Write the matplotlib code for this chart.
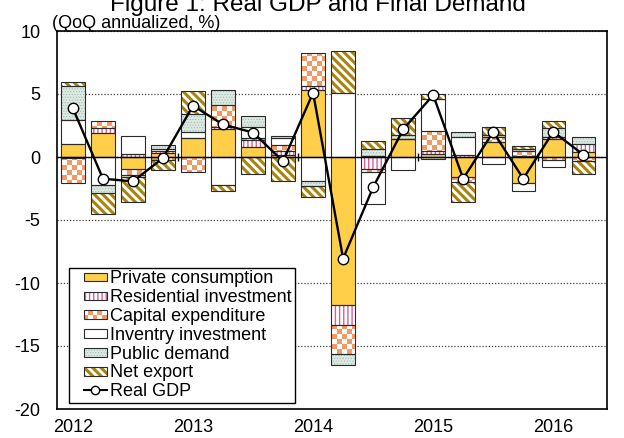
import numpy as np
import matplotlib
matplotlib.use("Agg")
import matplotlib.pyplot as plt
import matplotlib.patches as mpatches
from matplotlib.colors import ListedColormap
from matplotlib.lines import Line2D
from matplotlib.path import Path

plt.rcParams['font.family'] = ['Liberation Sans', 'DejaVu Sans']
plt.rcParams['axes.unicode_minus'] = False

# quarterly contributions to real GDP growth (QoQ annualized, %)
quarters = ['2012Q1', '2012Q2', '2012Q3', '2012Q4',
            '2013Q1', '2013Q2', '2013Q3', '2013Q4',
            '2014Q1', '2014Q2', '2014Q3', '2014Q4',
            '2015Q1', '2015Q2', '2015Q3', '2015Q4',
            '2016Q1', '2016Q2']
year_labels = ['2012', '2013', '2014', '2015', '2016']

private = [1.07, 1.87, -0.93, 0.32, 1.52, 2.26, 0.80, 0.14, 5.32, -11.78,
           0.05, 1.39, 0.20, -1.60, 1.20, -2.05, 1.45, 0.40]
residential = [-0.10, 0.45, 0.27, 0.16, 0.00, 0.13, 0.55, 0.35, 0.32, -1.52,
               -0.93, 0.00, 0.24, 0.13, 0.00, 0.05, 0.10, 0.60]
capex = [-2.00, 0.54, -0.53, -0.25, -1.20, 1.70, 0.12, 0.45, 2.61, -2.30,
         -0.27, 0.00, 1.62, -0.40, 0.35, 0.45, -0.25, -0.30]
inventory = [1.86, -2.26, 1.40, 0.15, 0.43, -2.26, 0.92, 0.53, -1.94, 5.06,
             -2.50, -1.06, 2.58, 1.47, -0.53, -0.65, -0.55, -0.05]
public = [2.71, -0.58, -0.10, 0.36, 1.44, 1.20, 0.88, 0.20, -0.40, -0.88,
          0.62, 0.34, -0.13, 0.40, 0.18, 0.15, 0.75, 0.60]
net_export = [0.30, -1.68, -2.03, -0.75, 1.86, -0.45, -1.33, -1.94, -0.80, 3.32,
              0.58, 1.33, 0.34, -1.60, 0.67, 0.20, 0.55, -1.00]
real_gdp = [3.86, -1.72, -1.94, -0.08, 4.07, 2.58, 1.94, -0.34, 5.10, -8.06,
            -2.40, 2.19, 4.92, -1.72, 2.00, -1.72, 2.00, 0.19]

CHECK_ORANGE = '#F29A66'
styles = {
    'Private consumption': dict(face='#FFCF4A', hatch=None, hcolor='#FFCF4A', hlw=1.0),
    'Residential investment': dict(face='white', hatch='||||', hcolor='#D2609C', hlw=1.0),
    'Capital expenditure': dict(face='white', hatch=None, hcolor='white', hlw=1.0, checker=True),
    'Inventry investment': dict(face='white', hatch=None, hcolor='white', hlw=1.0),
    'Public demand': dict(face='#DCE9E2', hatch='......', hcolor='#9AB5A8', hlw=0.4),
    'Net export': dict(face='white', hatch='\\\\\\\\', hcolor='#A8830F', hlw=2.2),
}
components = [('Private consumption', private),
              ('Residential investment', residential),
              ('Capital expenditure', capex),
              ('Inventry investment', inventory),
              ('Public demand', public),
              ('Net export', net_export)]

fig = plt.figure(figsize=(6.24, 4.38), dpi=100)
ax = fig.add_axes([57 / 624, 1 - 409 / 438, 550 / 624, 378 / 438])

x = np.arange(len(quarters))
width = 0.78
xlim = (-0.53, len(quarters) - 0.21)
ylim = (-20, 10)

pos_base = np.zeros(len(x))
neg_base = np.zeros(len(x))
capex_bars = None
for name, vals in components:
    st = styles[name]
    v = np.array(vals, dtype=float)
    bottoms = np.where(v >= 0, pos_base, neg_base)
    with plt.rc_context({'hatch.linewidth': st['hlw']}):
        filled = ax.bar(x, v, width, bottom=bottoms, color=st['face'],
                        edgecolor=st['hcolor'], hatch=st['hatch'],
                        linewidth=0, zorder=2)
    for p in filled:
        if hasattr(p, 'set_hatch_linewidth'):
            p.set_hatch_linewidth(st['hlw'])
    ax.bar(x, v, width, bottom=bottoms, fill=False, edgecolor='#2a2a2a',
           linewidth=0.8, zorder=4)
    if st.get('checker'):
        capex_bars = filled
    pos_base += np.where(v > 0, v, 0)
    neg_base += np.where(v < 0, v, 0)

# checkerboard texture for capital expenditure, clipped to its segments
board = np.add.outer(np.arange(76), np.arange(110)) % 2
im = ax.imshow(board, extent=(xlim[0], xlim[1], ylim[0], ylim[1]), origin='lower',
               cmap=ListedColormap(['white', CHECK_ORANGE]), aspect='auto',
               interpolation='nearest', zorder=3)
rects = [p.get_path().transformed(p.get_patch_transform()) for p in capex_bars]
im.set_clip_path(Path.make_compound_path(*rects), ax.transData)

ax.plot(x, real_gdp, color='black', linewidth=1.7, marker='o', markersize=7.5,
        markerfacecolor='white', markeredgecolor='black', markeredgewidth=1.0,
        zorder=6)

ax.axhline(0, color='black', linewidth=1.0, zorder=5)
year_bounds = np.arange(4, len(quarters), 4) - 0.5
ax.vlines(year_bounds, -0.33, 0.33, color='black', linewidth=1.0, zorder=5)

ax.set_xlim(*xlim)
ax.set_ylim(*ylim)
ax.set_yticks(np.arange(-20, 11, 5))
ax.set_yticklabels([str(v) for v in range(-20, 11, 5)])
ax.set_xticks(x[::4])
ax.set_xticklabels(year_labels)
ax.tick_params(axis='y', length=0, pad=12, labelsize=13)
ax.tick_params(axis='x', length=0, pad=7, labelsize=13)
ax.yaxis.grid(True, linestyle=(0, (1, 1.5)), color='#444444', linewidth=0.9)
ax.set_axisbelow(True)
for s in ax.spines.values():
    s.set_color('black')
    s.set_linewidth(1.2)


class SwatchHandler:
    def __init__(self, st):
        self.st = st

    def legend_artist(self, legend, orig_handle, fontsize, handlebox):
        x0, y0 = handlebox.xdescent, handlebox.ydescent
        w, h = handlebox.width, handlebox.height
        sw, sh = 1.28 * fontsize, 0.69 * h
        sx, sy = x0 + w - sw, y0 + (h - sh) / 2
        tr = handlebox.get_transform()
        st = self.st
        with plt.rc_context({'hatch.linewidth': st['hlw']}):
            base = mpatches.Rectangle((sx, sy), sw, sh, facecolor=st['face'],
                                      edgecolor=st['hcolor'], hatch=st['hatch'],
                                      linewidth=0, transform=tr)
        if hasattr(base, 'set_hatch_linewidth'):
            base.set_hatch_linewidth(st['hlw'])
        handlebox.add_artist(base)
        if st.get('checker'):
            nc, nr = 5, 2
            for r in range(nr):
                for c in range(nc):
                    if (r + c) % 2 == 0:
                        handlebox.add_artist(mpatches.Rectangle(
                            (sx + c * sw / nc, sy + r * sh / nr), sw / nc, sh / nr,
                            facecolor=CHECK_ORANGE, linewidth=0, transform=tr))
        edge = mpatches.Rectangle((sx, sy), sw, sh, fill=False, edgecolor='#2a2a2a',
                                  linewidth=0.8, transform=tr)
        handlebox.add_artist(edge)
        return edge


class GdpHandler:
    def legend_artist(self, legend, orig_handle, fontsize, handlebox):
        x0, y0 = handlebox.xdescent, handlebox.ydescent
        w, h = handlebox.width, handlebox.height
        sw = 1.28 * fontsize
        sx, cy = x0 + w - sw, y0 + h / 2
        tr = handlebox.get_transform()
        ln = Line2D([sx, sx + sw], [cy, cy], color='black', linewidth=1.5, transform=tr)
        mk = Line2D([sx + sw / 2], [cy], marker='o', markersize=6, color='black',
                    markerfacecolor='white', markeredgewidth=1.0, transform=tr)
        handlebox.add_artist(ln)
        handlebox.add_artist(mk)
        return ln


handles, labels, hmap = [], [], {}
for name, _ in components:
    hd = mpatches.Patch()
    handles.append(hd)
    labels.append(name)
    hmap[hd] = SwatchHandler(styles[name])
gdp_handle = Line2D([], [])
handles.append(gdp_handle)
labels.append('Real GDP')
hmap[gdp_handle] = GdpHandler()

leg = ax.legend(handles, labels, handler_map=hmap, loc='lower left',
                bbox_to_anchor=(69 / 624, 35 / 438), bbox_transform=fig.transFigure,
                borderaxespad=0, borderpad=0.15, fontsize=13, labelspacing=0.1,
                handlelength=1.94, handletextpad=0.2, fancybox=False,
                framealpha=1, edgecolor='black')
leg.get_frame().set_linewidth(1.0)

fig.text(57 / 624 - 5 / 624, 1 - 28 / 438, '(QoQ annualized, %)', fontsize=13,
         ha='left', va='baseline')
fig.text(318 / 624, 1 - 11 / 438, 'Figure 1: Real GDP and Final Demand',
         fontsize=17.5, ha='center', va='baseline')

fig.savefig('out.png', dpi=100)
